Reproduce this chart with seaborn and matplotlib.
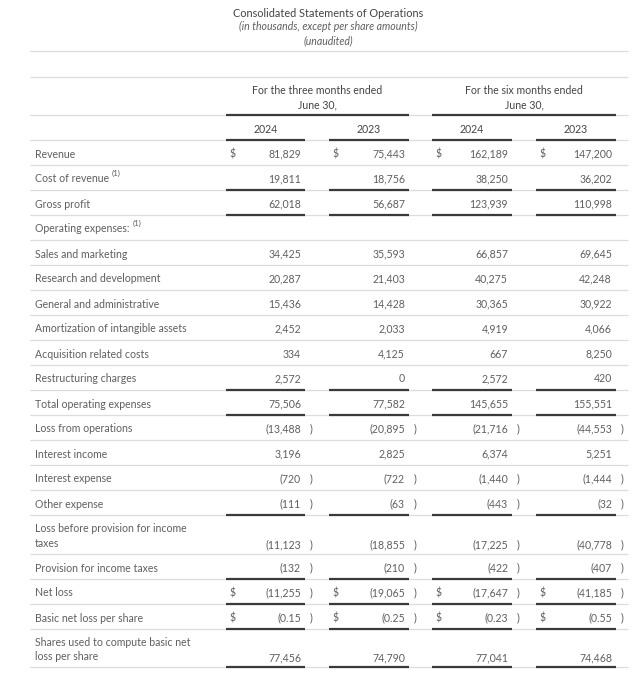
import numpy as np
import pandas as pd
import matplotlib
matplotlib.use("Agg")
import matplotlib.pyplot as plt
import seaborn as sns

# statement data
labels = [
    "Revenue", "Cost of revenue", "Gross profit", "Operating expenses:",
    "Sales and marketing", "Research and development", "General and administrative",
    "Amortization of intangible assets", "Acquisition related costs", "Restructuring charges",
    "Total operating expenses", "Loss from operations", "Interest income", "Interest expense",
    "Other expense", "Loss before provision for income\ntaxes", "Provision for income taxes",
    "Net loss", "Basic net loss per share", "Shares used to compute basic net\nloss per share",
]
q_2024 = [81829, 19811, 62018, None, 34425, 20287, 15436, 2452, 334, 2572, 75506,
          -13488, 3196, -720, -111, -11123, -132, -11255, -0.15, 77456]
q_2023 = [75443, 18756, 56687, None, 35593, 21403, 14428, 2033, 4125, 0, 77582,
          -20895, 2825, -722, -63, -18855, -210, -19065, -0.25, 74790]
h_2024 = [162189, 38250, 123939, None, 66857, 40275, 30365, 4919, 667, 2572, 145655,
          -21716, 6374, -1440, -443, -17225, -422, -17647, -0.23, 77041]
h_2023 = [147200, 36202, 110998, None, 69645, 42248, 30922, 4066, 8250, 420, 155551,
          -44553, 5251, -1444, -32, -40778, -407, -41185, -0.55, 74468]
years = ["2024", "2023", "2024", "2023"]
periods = ["For the three months ended\nJune 30,", "For the six months ended\nJune 30,"]
dollar_rows = ["Revenue", "Net loss", "Basic net loss per share"]
underlined_rows = ["Cost of revenue", "Gross profit", "Restructuring charges",
                   "Total operating expenses", "Other expense", "Provision for income taxes",
                   "Net loss", "Basic net loss per share",
                   "Shares used to compute basic net\nloss per share"]
footnote_rows = ["Cost of revenue", "Operating expenses:"]

df = pd.DataFrame({"label": labels, "q24": q_2024, "q23": q_2023, "h24": h_2024, "h23": h_2023})

sns.set_theme(style="white")
plt.rcParams["font.family"] = ["Lato", "DejaVu Sans"]

TXT = "#5f5f5f"
LIGHT = "#dcdcdc"
DARK = "#3a3a3a"
FS = 7.6

fig = plt.figure(figsize=(6.4, 6.81), dpi=100)
ax = fig.add_axes([0, 0, 1, 1])
ax.set_xlim(0, 640)
ax.set_ylim(681, 0)
ax.axis("off")

col_spans = [(226, 305), (329, 409), (432, 512), (536, 616)]
group_spans = [(226, 409), (432, 616)]
left, right = 30, 628
dy = 1.5  # small nudge so text sits like the reference

# titles
ax.text(328, 12 + dy, "Consolidated Statements of Operations", ha="center", va="center",
        fontsize=7.8, color="#444444")
ax.text(328, 25 + dy, "(in thousands, except per share amounts)", ha="center", va="center",
        fontsize=7.6, color=TXT, style="italic")
ax.text(328, 39 + dy, "(unaudited)", ha="center", va="center", fontsize=7.6, color=TXT,
        style="italic")

for y in [51, 77, 115, 140]:
    ax.hlines(y, left, right, color=LIGHT, lw=0.9)

for (a, b), p in zip(group_spans, periods):
    ax.text((a + b) / 2, 96 + dy, p, ha="center", va="center", fontsize=FS, color="#444444",
            linespacing=1.4)
    ax.hlines(115, a, b, color=DARK, lw=1.6)

for (a, b), yr in zip(col_spans, years):
    ax.text((a + b) / 2, 128 + dy, yr, ha="center", va="center", fontsize=FS, color="#444444")
    ax.hlines(140, a, b, color=DARK, lw=1.6)


def fmt(v):
    if abs(v) < 1 and v != 0:
        s = f"{abs(v):.2f}"
    else:
        s = f"{abs(int(v)):,}"
    return "(" + s if v < 0 else s


heights = [25] * 15 + [39] + [25] * 3 + [38]
top = 140
for i, row in df.iterrows():
    h = heights[i]
    bottom = top + h
    two_line = "\n" in row["label"]
    ylab = top + h / 2 + dy
    yval = bottom - 11 + dy if two_line else ylab
    t = ax.text(35, ylab, row["label"], ha="left", va="center", fontsize=FS, color=TXT,
                linespacing=1.4)
    if row["label"] in footnote_rows:
        ax.annotate("(1)", xy=(1, 1), xycoords=t, xytext=(2, 3), textcoords="offset points",
                    ha="left", va="top", fontsize=5.8, color=TXT)
    for (a, b), key in zip(col_spans, ["q24", "q23", "h24", "h23"]):
        v = row[key]
        if v is None or pd.isna(v):
            continue
        ax.text(b - 4, yval, fmt(v), ha="right", va="center", fontsize=FS, color=TXT)
        if v < 0:
            ax.text(b + 5, yval, ")", ha="left", va="center", fontsize=FS, color=TXT)
        if row["label"] in dollar_rows:
            ax.text(a + 4, yval, "$", ha="left", va="center", fontsize=FS, color=TXT)
    ax.hlines(bottom, left, right, color=LIGHT, lw=0.9)
    if row["label"] in underlined_rows:
        for a, b in col_spans:
            ax.hlines(bottom, a, b, color=DARK, lw=1.6)
    top = bottom

fig.savefig("out.png", dpi=100, facecolor="white")
